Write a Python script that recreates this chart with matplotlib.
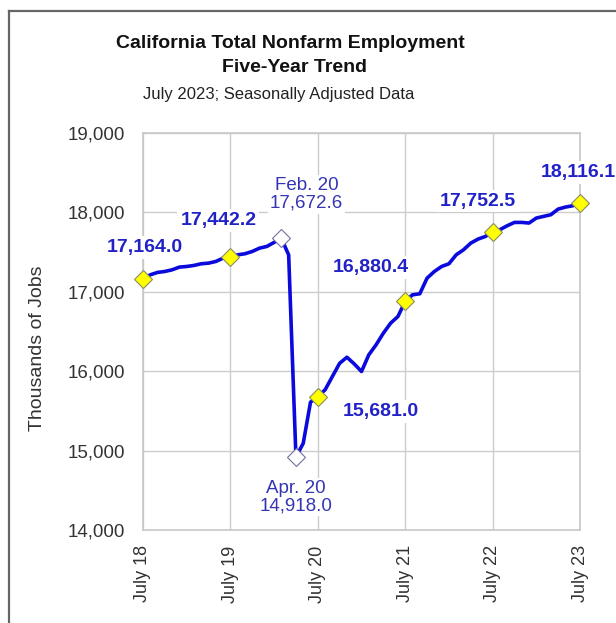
import numpy as np
import matplotlib.pyplot as plt
from matplotlib.lines import Line2D

plt.rcParams['font.family'] = ['Liberation Sans', 'DejaVu Sans']

# monthly employment, July 2018 .. July 2023 (thousands)
jobs = [
    17164.0, 17214, 17244, 17256, 17277, 17311, 17319, 17332, 17353, 17361, 17382, 17424,
    17442.2, 17466, 17479, 17508, 17550, 17571, 17622, 17672.6, 17465, 14918.0, 15092, 15610,
    15681.0, 15765, 15933, 16100, 16176, 16092, 15996, 16206, 16332, 16479, 16605, 16689,
    16880.4, 16962, 16975, 17172, 17256, 17319, 17353, 17466, 17529, 17613, 17664, 17697,
    17752.5, 17782, 17832, 17874, 17874, 17866, 17929, 17950, 17971, 18042, 18067, 18084,
    18116.1,
]
months = np.arange(len(jobs))
tick_labels = ['July 18', 'July 19', 'July 20', 'July 21', 'July 22', 'July 23']
yearly_idx = [0, 12, 24, 36, 48, 60]
extreme_idx = [19, 21]
extreme_names = ['Feb. 20', 'Apr. 20']

fig = plt.figure(figsize=(6.16, 6.23), dpi=100)
ax = fig.add_axes([0.2321, 0.1493, 0.7095, 0.6372])

ax.plot(months, jobs, color='#0a0adc', lw=2.6, zorder=3)
ax.plot(months[yearly_idx], [jobs[i] for i in yearly_idx], ls='none', marker='D',
        ms=9, mfc='#ffff00', mec='#8a8a60', mew=0.8, zorder=4, clip_on=False)
ax.plot(months[extreme_idx], [jobs[i] for i in extreme_idx], ls='none', marker='D',
        ms=9, mfc='white', mec='#7070a0', mew=0.8, zorder=4, clip_on=False)

# value labels (offsets in pixels from the marker)
bold_offsets = [(2, 31), (-12, 36), (63, -15), (-34, 34), (-15, 31), (-2, 31)]
for i, off in zip(yearly_idx, bold_offsets):
    ax.annotate(f'{jobs[i]:,.1f}', (months[i], jobs[i]), xytext=off,
                textcoords='offset pixels', ha='center', va='center',
                fontsize=14, fontweight='bold', color='#2121c8', zorder=5,
                annotation_clip=False,
                bbox=dict(boxstyle='square,pad=0.15', fc='white', ec='none'))

ext_offsets = [(25, 44), (0, -40)]
for i, name, off in zip(extreme_idx, extreme_names, ext_offsets):
    ax.annotate(f'{name}\n{jobs[i]:,.1f}', (months[i], jobs[i]), xytext=off,
                textcoords='offset pixels', ha='center', va='center',
                fontsize=13.5, color='#3535b4', linespacing=1.05, zorder=5,
                bbox=dict(boxstyle='square,pad=0.1', fc='white', ec='none'))

ax.set_xlim(0, 60)
ax.set_ylim(14000, 19000)
ax.set_xticks(yearly_idx)
ax.set_xticklabels(tick_labels, rotation=90, fontsize=13, color='#333333')
ax.set_yticks(np.arange(14000, 19001, 1000))
ax.set_yticklabels([f'{v:,}' for v in range(14000, 19001, 1000)], fontsize=13.5,
                   color='#333333')
ax.tick_params(axis='y', length=0, pad=13)
ax.tick_params(axis='x', length=0, pad=11)
ax.grid(True, color='#cccccc', lw=1)
ax.set_axisbelow(True)
for s in ax.spines.values():
    s.set_color('#c8c8c8')
    s.set_linewidth(1.2)

fig.text(38 / 616, 1 - 348 / 623, 'Thousands of Jobs', rotation=90, ha='center',
         va='center', fontsize=14, color='#333333')

fig.text(0.471, 1 - 43 / 623, 'California Total Nonfarm Employment', ha='center',
         va='center', fontsize=14, fontweight='bold', color='#111111')
fig.text(0.478, 1 - 68 / 623, 'Five-Year Trend', ha='center', va='center',
         fontsize=14, fontweight='bold', color='#111111')
fig.text(0.452, 1 - 94 / 623, 'July 2023; Seasonally Adjusted Data', ha='center',
         va='center', fontsize=12, color='#222222')

# outer frame (only left and top edges show in the crop)
fig.add_artist(Line2D([9 / 616, 9 / 616], [0, 1 - 11 / 623], color='#666666', lw=1.6,
                      transform=fig.transFigure))
fig.add_artist(Line2D([9 / 616, 1], [1 - 11 / 623, 1 - 11 / 623], color='#666666',
                      lw=1.6, transform=fig.transFigure))

fig.savefig('out.png', dpi=100)
